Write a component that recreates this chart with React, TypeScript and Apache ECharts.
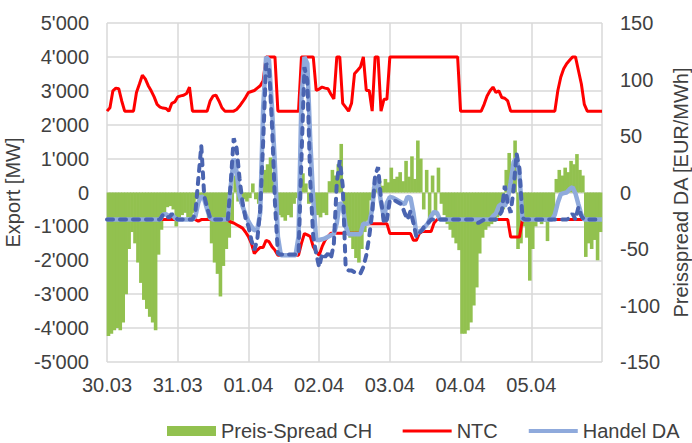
import React, { useEffect, useRef } from "react";
import * as echarts from "echarts";

// x positions are hours since 30.03 00:00 (one value per hour)
const dateLabels = ["30.03", "31.03", "01.04", "02.04", "03.04", "04.04", "05.04"];

// NTC export (MW), hours 0..168
const ntcExport = [
  2400, 2500, 3000, 3080, 3060, 2700, 2400, 2400, 2400, 2400, 2950, 3200, 3460, 3350, 3150, 3000, 2820, 2600, 2520, 2490, 2480, 2400, 2630, 2670,
  2820, 2850, 2870, 2920, 3110, 2400, 2400, 2400, 2400, 2400, 2400, 2700, 2850, 2870, 2700, 2500, 2400, 2400, 2400, 2400, 2450, 2550, 2670, 2800,
  2950, 2980, 3010, 3080, 3150, 3300, 4000, 4000, 4000, 4000, 2400, 2400, 2400, 2400, 2400, 2400, 2400, 2400, 4000, 4000, 4000, 4000, 4000, 3010,
  3050, 3110, 3080, 3060, 2900, 2760, 4000, 4000, 2630, 2520, 2400, 2630, 3500, 3600, 3700, 4000, 3010, 3010, 2400, 4000, 4000, 2400, 2750, 2750,
  4000, 4000, 4000, 4000, 4000, 4000, 4000, 4000, 4000, 4000, 4000, 4000, 4000, 4000, 4000, 4000, 4000, 4000, 4000, 4000, 4000, 4000, 4000, 4000,
  2400, 2400, 2400, 2400, 2400, 2400, 2400, 2400, 2600, 2850, 3000, 3110, 2950, 3000, 2800, 2780, 2700, 2400, 2400, 2400, 2400, 2400, 2400, 2400,
  2400, 2400, 2400, 2400, 2400, 2400, 2400, 2400, 2400, 3000, 3400, 3650, 3800, 3900, 4000, 4000, 3600, 3200, 2600, 2400, 2400, 2400, 2400, 2400,
  2400,
];

// NTC import (MW), hours 0..168
const ntcImport = [
  -800, -800, -800, -800, -800, -800, -800, -800, -800, -800, -800, -800, -800, -800, -800, -800, -800, -800, -800, -800, -800, -800, -800, -800,
  -800, -800, -800, -800, -800, -800, -800, -850, -800, -800, -800, -800, -800, -800, -800, -800, -800, -820, -870, -900, -950, -1000, -1050, -1165,
  -1300, -1500, -1800, -1700, -1620, -1620, -1410, -1450, -1600, -1700, -1850, -1850, -1850, -1850, -1850, -1850, -1850, -1850, -1500, -1210, -1250, -1300, -1600, -1750,
  -1850, -1600, -1410, -1300, -1200, -1200, -1200, -1200, -1200, -1200, -1200, -1200, -1200, -1200, -1200, -920, -920, -920, -920, -920, -920, -920, -920, -920,
  -1210, -1210, -1210, -1210, -1210, -1210, -1210, -1210, -1410, -1410, -1210, -1150, -1150, -1150, -1150, -900, -800, -800, -800, -800, -800, -800, -800, -800,
  -800, -800, -800, -800, -800, -800, -800, -800, -800, -800, -800, -800, -800, -800, -800, -800, -800, -1310, -1310, -1310, -1310, -800, -800, -800,
  -800, -800, -800, -800, -800, -800, -800, -800, -800, -800, -800, -800, -800, -800, -800, -800, -800, -800, -800, -800, -800, -800, -800, -800,
  -800,
];

// Handel DA (MW), hours 0..168
const handelDA = [
  -800, -800, -800, -800, -800, -800, -800, -800, -800, -800, -800, -800, -800, -800, -800, -800, -800, -800, -800, -650, -640, -700, -640, -750,
  -800, -800, -800, -800, -800, -800, -700, -300, -100, -200, -500, -750, -800, -800, -800, -800, -800, -800, 200, 1000, 600, -100, -400, -650,
  -850, -1000, -1115, -1100, -600, 2500, 4000, 3900, 2500, 800, -1300, -1850, -1850, -1850, -1850, -1850, -1850, -1300, 2800, 4000, 3800, 1500, -200, -1400,
  -1400, -1380, -1350, -1310, -1260, -1230, -900, -300, -400, -1000, -1230, -1230, -1230, -1230, -1230, -920, -920, -900, -500, 400, 300, -300, -750, -300,
  -130, -150, -200, -250, -300, -350, -130, -150, -600, -1210, -1150, -1100, -1000, -900, -700, -570, -600, -800, -800, -800, -800, -800, -800, -800,
  -800, -800, -800, -800, -800, -800, -800, -800, -800, -800, -800, -700, -620, -400, -330, -400, -200, 300, 900, 1000, 500, -800, -800, -800,
  -800, -800, -800, -800, -800, -800, -800, -800, -650, -300, -50, -20, 0, 100, 160, -30, -350, -650, -800, -800, -800, -800, -800, -800,
  -800,
];

// dashed flow series (MW), hours 0..168
const flussPhys = [
  -800, -800, -800, -800, -800, -800, -800, -800, -800, -800, -800, -800, -800, -800, -800, -800, -800, -800, -800, -650, -660, -750, -640, -700,
  -800, -800, -800, -800, -800, -800, -600, 400, 1380, -100, -450, -750, -800, -800, -800, -800, -800, -800, 300, 1600, 1300, 400, -300, -750,
  -1000, -1400, -1700, -1400, -500, 1500, 3800, 3700, 2000, -300, -1800, -1830, -1830, -1830, -1830, -1830, -1830, -1830, 1000, 3700, 3300, 300, -1300, -1800,
  -2200, -1800, -1900, -1800, -1950, -1500, 300, 950, 200, -2200, -2300, -2300, -2350, -2380, -2390, -2200, -1850, -1300, -600, 500, 750, -200, -920, -800,
  -230, -230, -250, -300, -350, -600, -800, -550, -900, -1310, -1200, -1100, -950, -900, -800, -800, -800, -800, -800, -800, -800, -800, -800, -800,
  -800, -800, -800, -800, -800, -850, -900, -850, -800, -800, -800, -800, -800, -700, -550, 200, -300, -600, 100, 1150, 700, -750, -800, -800,
  -800, -800, -800, -800, -800, -800, -800, -800, -800, -800, -800, -800, -800, -750, -620, -800, -430, -700, -800, -800, -800, -800, -800, -800,
  -820,
];

// Preis-Spread CH (EUR/MWh), one bar per hour 0..167
const preisSpread = [
  -127, -125, -122, -120, -122, -115, -90, -50, -35, -45, -62, -80, -95, -103, -110, -115, -122, -55, -33, -20, -13, -12, -15, -30,
  -22, -20, -18, -22, -25, -18, -6, -3, -3, -10, -25, -45, -62, -72, -92, -65, -50, -40, -25, 15, -8, -10, -6, -8,
  -5, 8, -6, -10, 10, 20, 25, 31, 10, -15, -20, -22, -25, -20, -22, -10, -5, 12, 17, 8, -10, -5, -12, -20,
  -22, -18, -20, 10, 20, 15, 25, 43, -25, -30, -40, -50, -58, -62, -50, -35, -25, -7, 5, 8, 10, 6, 12, 9,
  22, 12, 14, 18, 10, 28, 14, 32, 12, 46, 30, -15, 20, -25, 15, -20, 22, -10, -20, -28, -33, -40, -45, -51,
  -125, -125, -122, -115, -100, -84, -54, -40, -33, -30, -28, -26, -22, -20, -15, 20, 35, 25, 46, -50, -45, -30, -40, -78,
  -50, -30, -26, -28, -26, -43, -25, -20, 12, 20, 15, 22, 18, 28, 25, 34, 20, 15, -57, -45, -50, -42, -60, -35,
];

const FONT = "'Liberation Sans', Arial, Helvetica, sans-serif";
const TXT = "#404040";
const GRID = "#D9D9D9";

const fmtThousands = (v: number) => {
  const neg = v < 0;
  const s = String(Math.abs(v)).replace(/\B(?=(\d{3})+(?!\d))/g, "'");
  return (neg ? "-" : "") + s;
};

const toLine = (arr: number[]) => arr.map((v, i) => [i, v]);

export default function App() {
  const ref = useRef<HTMLDivElement>(null);
  useEffect(() => {
    if (!ref.current) return;
    const chart = echarts.init(ref.current, undefined, { renderer: "svg" });
    chart.setOption({
      animation: false,
      backgroundColor: "#ffffff",
      textStyle: { fontFamily: FONT },
      grid: { left: 107, right: 90, top: 23, bottom: 81, containLabel: false, outerBoundsMode: "none" },
      legend: {
        data: [
          { name: "Preis-Spread CH", icon: "rect" },
          { name: "NTC", itemStyle: { opacity: 0 }, lineStyle: { color: "#FF0000", width: 3 } },
          { name: "Handel DA", itemStyle: { opacity: 0 }, lineStyle: { color: "#8FAADC", width: 4 } },
        ],
        left: 162,
        top: 416,
        itemGap: 29,
        itemWidth: 49,
        itemHeight: 10,
        textStyle: { fontSize: 20, color: TXT, fontFamily: FONT },
      },
      xAxis: {
        type: "value",
        min: 0,
        max: 168,
        interval: 24,
        axisLine: { show: false },
        axisTick: { show: false },
        splitLine: { show: true, lineStyle: { color: GRID, width: 1.5 } },
        axisLabel: {
          margin: 13,
          fontSize: 20,
          color: TXT,
          fontFamily: FONT,
          formatter: (v: number) => dateLabels[Math.round(v / 24)] ?? "",
        },
      },
      yAxis: [
        {
          type: "value",
          min: -5000,
          max: 5000,
          interval: 1000,
          name: "Export [MW]",
          nameLocation: "middle",
          nameRotate: 90,
          nameGap: 78,
          nameTextStyle: { fontSize: 20, color: TXT, fontFamily: FONT },
          axisLine: { show: false },
          axisTick: { show: false },
          splitLine: { show: true, lineStyle: { color: GRID, width: 1.5 } },
          axisLabel: { margin: 18, fontSize: 20, color: TXT, fontFamily: FONT, formatter: fmtThousands },
        },
        {
          type: "value",
          min: -150,
          max: 150,
          interval: 50,
          position: "right",
          name: "Preisspread DA [EUR/MWh]",
          nameLocation: "middle",
          nameRotate: 90,
          nameGap: 67,
          nameTextStyle: { fontSize: 20, color: TXT, fontFamily: FONT },
          axisLine: { show: false },
          axisTick: { show: false },
          splitLine: { show: false },
          axisLabel: { margin: 18, fontSize: 20, color: TXT, fontFamily: FONT },
        },
      ],
      series: [
        {
          name: "Preis-Spread CH",
          type: "bar",
          yAxisIndex: 1,
          barWidth: 3.6,
          itemStyle: { color: "#92C14F" },
          data: preisSpread.map((v, i) => [i + 0.5, v]),
          z: 1,
        },
        {
          name: "NTC",
          type: "line",
          symbol: "none",
          lineStyle: { color: "#FF0000", width: 3 },
          itemStyle: { color: "#FF0000" },
          data: toLine(ntcExport),
          z: 2,
        },
        {
          name: "NTC",
          type: "line",
          symbol: "none",
          lineStyle: { color: "#FF0000", width: 3 },
          itemStyle: { color: "#FF0000" },
          data: toLine(ntcImport),
          z: 2,
        },
        {
          name: "Handel DA",
          type: "line",
          symbol: "none",
          lineStyle: { color: "#8FAADC", width: 4.5 },
          itemStyle: { color: "#8FAADC" },
          data: toLine(handelDA),
          z: 3,
        },
        {
          name: "Physikalischer Fluss",
          type: "line",
          symbol: "none",
          lineStyle: { color: "#4A64B0", width: 4, type: [6, 7], cap: "round" },
          itemStyle: { color: "#4A64B0" },
          data: toLine(flussPhys),
          z: 4,
        },
      ],
    });
    return () => chart.dispose();
  }, []);
  return <div ref={ref} style={{ width: 692, height: 443, position: "absolute", left: 0, top: 0 }} />;
}
